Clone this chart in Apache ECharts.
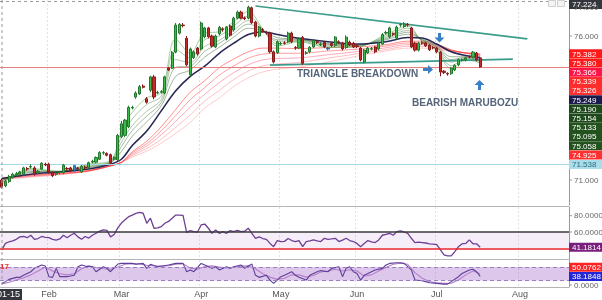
<!DOCTYPE html>
<html><head><meta charset="utf-8">
<script src="https://cdn.jsdelivr.net/npm/echarts@6/dist/echarts.min.js"></script>
<style>html,body{margin:0;padding:0;background:#fff}#c{width:602px;height:300px}</style>
</head><body><div id="c"></div>
<script>
// ---------- categories (trading days) ----------
const startDate = '2020-01-15', endDate = '2020-08-20';
function weekdays(a, b) {
  const out = []; const d = new Date(a + 'T00:00:00Z'); const e = new Date(b + 'T00:00:00Z');
  while (d <= e) { const w = d.getUTCDay(); if (w !== 0 && w !== 6) out.push(d.toISOString().slice(0, 10)); d.setUTCDate(d.getUTCDate() + 1); }
  return out;
}
const categories = weekdays(startDate, endDate);
const monthNames = ['Jan','Feb','Mar','Apr','May','Jun','Jul','Aug','Sep','Oct','Nov','Dec'];

// ---------- candles [open, close, low, high] ----------
const ohlc = [
[71.00,70.75,70.70,71.05],[70.80,70.95,70.75,71.00],[70.95,71.12,70.90,71.18],[71.10,71.20,71.05,71.25],[71.18,71.22,71.12,71.28],
[71.20,71.28,71.15,71.32],[71.20,71.42,71.15,71.46],[71.40,71.38,71.32,71.45],[71.45,71.47,71.40,71.55],[71.42,71.20,71.15,71.48],
[71.25,71.30,71.20,71.35],[71.38,71.58,71.35,71.62],[71.55,71.52,71.48,71.60],[71.55,71.28,71.22,71.60],[71.26,71.15,71.10,71.30],
[71.20,71.24,71.15,71.30],[71.26,71.28,71.20,71.32],[71.25,71.52,71.20,71.56],[71.40,71.38,71.32,71.45],[71.42,71.33,71.28,71.46],
[71.35,71.50,71.30,71.52],[71.42,71.40,71.35,71.46],[71.28,71.48,71.25,71.52],[71.45,71.42,71.38,71.50],[71.42,71.60,71.38,71.64],
[71.62,71.65,71.58,71.70],[71.62,71.78,71.58,71.82],[71.72,71.95,71.70,72.00],[71.94,71.95,71.88,72.00],[71.92,71.86,71.82,71.96],
[71.88,71.60,71.55,71.92],[71.72,71.78,71.68,71.82],[71.70,72.55,71.65,72.60],[72.50,72.95,72.45,73.05],[72.55,73.08,72.50,73.12],
[72.85,73.52,72.80,73.58],[73.50,73.52,73.45,73.58],[73.88,74.02,73.82,74.08],[73.99,74.24,73.95,74.30],[74.26,74.22,74.18,74.32],
[73.82,73.70,73.65,73.88],[74.12,74.58,74.05,74.62],[74.58,73.88,73.80,74.65],[74.02,74.04,73.98,74.10],[74.05,74.07,74.00,74.12],
[74.02,74.58,73.98,74.62],[74.89,74.82,74.78,74.92],[74.88,75.42,74.85,75.48],[75.44,76.38,75.40,76.45],[76.10,76.40,76.05,76.45],
[76.38,76.36,76.30,76.45],[75.92,75.00,74.95,76.00],[74.65,75.55,74.60,75.60],[75.25,75.45,75.20,75.50],[75.58,75.38,75.32,75.62],
[75.55,76.45,75.50,76.50],[75.97,76.28,75.92,76.32],[76.28,75.97,75.92,76.32],[76.00,75.65,75.60,76.05],[75.62,76.00,75.58,76.05],
[76.08,76.30,76.02,76.35],[76.25,76.22,76.15,76.30],[75.90,76.31,75.85,76.35],[76.35,76.03,75.98,76.40],[76.21,76.62,76.15,76.67],
[76.62,76.83,76.58,76.88],[76.83,76.62,76.58,76.88],[76.63,76.60,76.55,76.68],[76.62,77.00,76.58,77.05],[76.98,76.46,76.42,77.02],
[76.48,76.00,75.95,76.52],[76.00,76.31,75.95,76.35],[76.22,76.20,76.12,76.28],[76.12,76.10,76.05,76.18],[76.10,75.45,75.40,76.15],
[75.45,75.10,75.05,75.50],[75.42,75.80,75.38,75.85],[75.72,75.74,75.68,75.80],[75.76,75.75,75.70,75.82],[75.80,76.10,75.75,76.15],
[76.10,75.80,75.75,76.15],[75.60,75.58,75.52,75.65],[75.58,75.90,75.55,75.95],[75.95,75.05,75.00,76.00],[75.40,75.42,75.35,75.48],
[75.45,75.61,75.40,75.65],[75.62,75.85,75.58,75.90],[75.80,75.78,75.72,75.85],[75.70,75.72,75.65,75.78],[75.78,75.62,75.58,75.82],
[75.58,75.55,75.50,75.62],[75.74,75.67,75.62,75.78],[75.68,75.96,75.62,76.00],[75.80,75.78,75.72,75.85],[75.76,75.55,75.50,75.80],
[75.60,75.96,75.55,76.02],[75.79,75.69,75.65,75.84],[75.75,75.62,75.58,75.80],[75.66,75.64,75.58,75.70],[75.58,75.17,75.12,75.62],
[75.10,75.51,75.05,75.55],[75.41,75.58,75.38,75.62],[75.55,75.56,75.50,75.62],[75.62,75.45,75.40,75.65],[75.55,75.75,75.50,75.80],
[75.72,76.05,75.68,76.10],[76.10,76.12,76.05,76.18],[75.97,76.28,75.92,76.32],[76.08,76.06,76.00,76.12],[75.93,76.31,75.88,76.36],
[76.38,76.40,76.32,76.45],[76.33,76.42,76.28,76.48],[76.40,76.38,76.32,76.45],[76.28,75.62,75.58,76.32],[75.75,75.51,75.46,75.80],
[75.51,75.75,75.46,75.80],[75.76,75.75,75.70,75.82],[75.76,75.66,75.62,75.80],[75.68,75.52,75.48,75.72],[75.60,75.59,75.54,75.65],
[75.58,75.45,75.40,75.62],[75.44,74.75,74.60,75.48],[74.78,74.73,74.68,74.82],[74.70,74.68,74.62,74.74],[74.70,74.88,74.65,74.92],
[74.82,74.98,74.78,75.02],[75.00,75.18,74.95,75.22],[75.16,75.17,75.12,75.22],[75.17,75.24,75.12,75.28],[75.28,75.27,75.22,75.32],
[75.27,75.44,75.22,75.48],[75.41,75.17,75.12,75.45],[75.24,74.925,74.90,75.28]
];
const blueBars = [20, 90];

// ---------- moving-average ribbon (values read at these bar indices) ----------
const ribbonIdx = [0,8,16,24,30,33,36,40,44,48,52,56,60,64,68,72,76,82,90,98,106,112,116,120,124,128,132];
const g1 = [70.85,71.40,71.30,71.55,71.68,72.70,73.35,73.85,74.05,75.90,75.40,76.10,76.15,76.50,76.85,76.25,75.65,75.80,75.60,75.62,76.05,76.35,75.80,75.50,74.85,75.18,75.058];
const g2 = [70.89,71.36,71.30,71.52,71.65,72.50,73.12,73.62,73.92,75.54,75.24,75.87,76.00,76.35,76.69,76.23,75.73,75.82,75.64,75.64,76.00,76.27,75.83,75.54,74.97,75.21,75.095];
const g3 = [70.93,71.32,71.29,71.48,71.63,72.31,72.89,73.39,73.79,75.18,75.08,75.64,75.85,76.20,76.53,76.21,75.81,75.85,75.68,75.66,75.95,76.19,75.85,75.59,75.09,75.24,75.133];
const g4 = [70.96,71.29,71.29,71.46,71.61,72.16,72.72,73.22,73.69,74.91,74.96,75.47,75.74,76.09,76.41,76.20,75.87,75.87,75.71,75.68,75.91,76.13,75.87,75.62,75.18,75.26,75.154];
const g5 = [70.99,71.26,71.29,71.43,71.59,71.99,72.52,73.02,73.58,74.60,74.82,75.27,75.61,75.96,76.27,76.18,75.94,75.89,75.74,75.69,75.87,76.06,75.89,75.66,75.28,75.28,75.19];
const navy = [71.05,71.20,71.28,71.38,71.55,71.72,72.20,72.70,73.40,74.10,74.60,74.95,75.40,75.75,76.05,76.15,76.05,75.92,75.80,75.72,75.80,75.95,75.93,75.72,75.45,75.32,75.249];
const r1 = [71.06,71.18,71.24,71.33,71.50,71.62,71.98,72.35,72.85,73.45,74.05,74.45,74.90,75.20,75.45,75.58,75.58,75.56,75.60,75.62,75.70,75.82,75.82,75.72,75.52,75.40,75.326];
const r2 = [71.05,71.16,71.23,71.32,71.50,71.62,71.94,72.26,72.71,73.24,73.79,74.21,74.64,74.96,75.23,75.37,75.40,75.40,75.48,75.54,75.65,75.76,75.76,75.68,75.51,75.41,75.339];
const r3 = [71.04,71.14,71.21,71.32,71.49,71.61,71.89,72.18,72.57,73.04,73.53,73.98,74.38,74.73,75.00,75.17,75.22,75.24,75.35,75.46,75.59,75.70,75.70,75.63,75.49,75.41,75.366];
const r4 = [71.03,71.12,71.20,71.31,71.49,71.61,71.85,72.09,72.42,72.83,73.26,73.74,74.11,74.49,74.78,74.96,75.03,75.08,75.23,75.38,75.53,75.64,75.64,75.59,75.48,75.42,75.38];
const r5 = [71.02,71.10,71.18,71.30,71.48,71.60,71.80,72.00,72.28,72.62,73.00,73.50,73.85,74.25,74.55,74.75,74.85,74.92,75.10,75.30,75.48,75.58,75.58,75.54,75.46,75.42,75.382];

// ---------- levels / trendlines ----------
const lastPrice = 74.925;
const supportLevel = 71.538;
const upperTrend = [[70, 77.04], [145, 75.90]];
const lowerTrend = [[74, 74.99], [141, 75.20]];

// ---------- RSI ----------
const rsi = [38,46,48,49,51,54,54.5,53,56,51,52,54.5,53.5,53,51,50,51.5,56,53,56,58.4,54,51,54.5,52.5,56,58.4,61,62.5,62,
54,57,65,71,75,78.8,80.8,82.9,84,83,70.7,76.9,64.6,65,66.6,70.7,73,76.9,80.8,80.8,80.5,59.6,61.7,60.5,60,68.6,69.8,64.6,58.4,62.5,
58.4,60.5,58.4,61.7,60.5,62,60.5,61,64.6,58.4,52.2,54,52,51,46,42,49.5,48.3,48.5,52,49.5,48.3,49.5,42,48.3,49,50.3,49,48.3,52.3,
51,51.5,52.3,48.3,50,52.3,49.5,48.3,46,42,46,49.5,48,47,50.3,56,57,58.4,56,60.5,61.3,60,58.4,52.3,47,47.5,47,46.5,45.5,45,
44.4,38.3,31.8,30.6,30.6,36,42,45.5,46,50.3,45.5,45.5,41.18];
const rsiLevels = [60, 40];
const rsiTicks = [80, 60];
const rsiLast = 41.1814;

// ---------- Stochastic ----------
const stochK = [[0,7],[1,15],[2,25],[4,34],[5,34],[6,43],[8,59],[9,74],[11,89],[12,84],[13,37],[14,34],[15,74],[16,37],[18,37],[20,43],[21,81],[22,89],[23,84],[25,81],[26,59],[28,81],[29,74],[30,59],[32,93],[33,96],[36,96],[37,92],[39,96],[40,74],[41,92],[43,81],[46,89],[48,96],[50,96],[51,59],[52,67],[53,59],[55,96],[56,89],[58,74],[59,81],[60,67],[62,81],[63,74],[64,81],[66,89],[67,74],[69,93],[70,43],[71,34],[73,43],[74,22],[75,7],[77,37],[78,43],[80,59],[81,43],[82,34],[84,22],[85,43],[87,59],[88,64],[90,59],[91,74],[93,81],[94,37],[95,74],[96,81],[97,59],[98,51],[99,22],[100,43],[102,59],[103,67],[105,74],[106,89],[107,96],[109,99],[110,99],[111,96],[113,67],[114,22],[116,19],[117,15],[118,10],[120,7],[122,4],[123,4],[124,15],[126,37],[127,51],[129,67],[130,70],[131,59],[132,38.18]];
const stochD = [[0,5],[2,12],[4,22],[6,32],[8,45],[10,62],[12,80],[14,62],[16,50],[18,45],[20,50],[22,72],[24,85],[26,78],[28,72],[30,70],[32,80],[34,92],[36,95],[38,94],[40,88],[42,85],[44,84],[46,86],[48,92],[50,94],[52,75],[54,70],[56,82],[58,85],[60,80],[62,76],[64,78],[66,84],[68,85],[70,72],[72,50],[74,35],[76,25],[78,30],[80,45],[82,45],[84,35],[86,42],[88,58],[90,62],[92,70],[94,62],[96,68],[98,62],[100,40],[102,45],[104,62],[106,78],[108,92],[110,97],[112,92],[114,55],[116,30],[118,15],[120,10],[122,7],[124,8],[126,22],[128,45],[130,62],[132,50.08]];
const stochLevels = [80, 20];
const stochLastD = 50.0762, stochLastK = 38.1848;

// ---------- price-scale tags ----------
const crossPrice = 77.224;
const priceTicks = [76, 71];
const priceTagValues = [75.382, 75.380, 75.366, 75.339, 75.326, 75.249, 75.190, 75.154, 75.133, 75.095, 75.058, 74.925];
const priceTagColors = ['#ff1a1a','#ff1a1a','#ff1447','#ff2a2a','#ff2f2f','#1c1c4c','#1e4a1b','#1e4a1b','#24521f','#24521f','#24521f','#ff3030'];

// ---------- chart ----------
const chart = echarts.init(document.getElementById('c'), null, {renderer: 'canvas'});
const isMonthStart = i => i > 0 && categories[i].slice(5, 7) !== categories[i - 1].slice(5, 7);
const pairs = arr => ribbonIdx.map((x, k) => [x, arr[k]]);
const ribbon = (arr, color, op, w, z) => ({type: 'line', xAxisIndex: 0, yAxisIndex: 0, data: pairs(arr), smooth: 0.35, showSymbol: false, silent: true, z: z || 2, lineStyle: {color, opacity: op, width: w}});

const option = {
  animation: false,
  grid: [
    {left: 0, right: 33, top: 0, height: 205},
    {left: 0, right: 33, top: 207, height: 52},
    {left: 0, right: 33, top: 260, height: 27}
  ],
  xAxis: [0, 1, 2].map(g => ({
    type: 'category', gridIndex: g, data: categories, boundaryGap: true,
    axisLine: {show: false}, axisTick: {show: false},
    axisLabel: {show: g === 2, interval: (i) => isMonthStart(i), formatter: v => monthNames[+v.slice(5, 7) - 1],
      color: '#555', fontSize: 9, margin: 3, fontFamily: 'Liberation Sans'},
    splitLine: {show: true, interval: (i) => isMonthStart(i), lineStyle: {color: '#e2e2e2', type: [2, 2], width: 1}}
  })),
  yAxis: [
    {type: 'value', gridIndex: 0, position: 'right', min: 70.132, max: 77.25, axisLabel: {show: false}, axisTick: {show: false}, splitLine: {show: false}, axisLine: {show: true, lineStyle: {color: '#9a9a9a'}}},
    {type: 'value', gridIndex: 1, position: 'right', min: 26.87, max: 90.67, axisLabel: {show: false}, axisTick: {show: false}, splitLine: {show: false}, axisLine: {show: true, lineStyle: {color: '#9a9a9a'}}},
    {type: 'value', gridIndex: 2, position: 'right', min: -8.9, max: 111.1, axisLabel: {show: false}, axisTick: {show: false}, splitLine: {show: false}, axisLine: {show: true, lineStyle: {color: '#9a9a9a'}}}
  ],
  series: [
    ribbon(r5, '#ff2a2a', 0.25, 1), ribbon(r4, '#ff2a2a', 0.3, 1), ribbon(r3, '#ff1447', 0.36, 1), ribbon(r2, '#ff2a2a', 0.44, 1), ribbon(r1, '#ff2a2a', 0.52, 1),
    ribbon(g5, '#2c5a25', 0.45, 1), ribbon(g4, '#2c5a25', 0.42, 1), ribbon(g3, '#3a7030', 0.4, 1), ribbon(g2, '#3f8a33', 0.45, 1), ribbon(g1, '#46a83a', 0.5, 1),
    ribbon(navy, '#1c1c4c', 0.95, 1.6, 3),
    {
      type: 'candlestick', xAxisIndex: 0, yAxisIndex: 0, z: 5, barWidth: '72%',
      data: ohlc.map((r, i) => blueBars.includes(i) ? {value: r, itemStyle: {color: '#3d85c6', color0: '#3d85c6', borderColor: '#2b6aa8', borderColor0: '#2b6aa8'}} : r),
      itemStyle: {color: '#3cba4a', color0: '#c42a2a', borderColor: '#23782d', borderColor0: '#8a1b1b', borderWidth: 1},
      markLine: {
        silent: true, symbol: ['none', 'none'], label: {show: false}, animation: false,
        data: [
          {yAxis: lastPrice, lineStyle: {color: '#e88080', width: 1, type: 'solid'}},
          {yAxis: supportLevel, lineStyle: {color: '#a3d8e4', width: 1, type: 'solid'}},
          [{coord: [categories[upperTrend[0][0]], upperTrend[0][1]], lineStyle: {color: '#3a9c8a', width: 1.6, type: 'solid'}}, {coord: [categories[upperTrend[1][0]], upperTrend[1][1]]}],
          [{coord: [categories[lowerTrend[0][0]], lowerTrend[0][1]], lineStyle: {color: '#3a9c8a', width: 1.8, type: 'solid'}}, {coord: [categories[lowerTrend[1][0]], lowerTrend[1][1]]}]
        ]
      }
    },
    {
      type: 'line', xAxisIndex: 1, yAxisIndex: 1, data: rsi, showSymbol: false, silent: true, z: 4,
      lineStyle: {color: '#6e3f92', width: 1.3},
      markArea: {silent: true, itemStyle: {color: 'rgba(175,120,205,0.13)'}, data: [[{yAxis: rsiLevels[1]}, {yAxis: rsiLevels[0]}]]},
      markLine: {silent: true, symbol: ['none', 'none'], label: {show: false}, data: [
        {yAxis: rsiLevels[0], lineStyle: {color: '#3a3a3a', width: 1.5, type: 'solid'}},
        {yAxis: rsiLevels[1], lineStyle: {color: '#e8252b', width: 1.5, type: 'solid'}}
      ]}
    },
    {
      type: 'line', xAxisIndex: 2, yAxisIndex: 2, data: stochD, showSymbol: false, silent: true, z: 3,
      lineStyle: {color: '#b47fc8', width: 1.1},
      markArea: {silent: true, itemStyle: {color: 'rgba(160,100,200,0.36)'}, data: [[{yAxis: stochLevels[1]}, {yAxis: stochLevels[0]}]]},
      markLine: {silent: true, symbol: ['none', 'none'], label: {show: false}, data: [
        {yAxis: stochLevels[0], lineStyle: {color: '#9a7fc4', width: 1, type: [4, 3]}},
        {yAxis: stochLevels[1], lineStyle: {color: '#9a7fc4', width: 1, type: [4, 3]}}
      ]}
    },
    {type: 'line', xAxisIndex: 2, yAxisIndex: 2, data: stochK, showSymbol: false, silent: true, z: 4, lineStyle: {color: '#5d3f9a', width: 1.1}}
  ]
};
chart.setOption(option);

// ---------- overlays: right-scale tags, annotations ----------
const FONT = '8px "Liberation Sans"';
function txt(x, y, text, fill, font, align) {
  return {type: 'text', x, y, z: 101, silent: true, style: {text, fill, font: font || FONT, textAlign: align || 'left', textVerticalAlign: 'middle', align: align || 'left', verticalAlign: 'middle'}};
}
function tag(y, text, bg, fg) {
  return [{type: 'rect', z: 100, silent: true, shape: {x: 569, y: y - 4.5, width: 33, height: 9}, style: {fill: bg}}, txt(572, y + 0.5, text, fg)];
}
function plain(y, text) {
  return [{type: 'line', z: 99, silent: true, shape: {x1: 569, y1: y, x2: 572, y2: y}, style: {stroke: '#999', lineWidth: 1}}, txt(574, y + 0.5, text, '#666')];
}
const py = (ax, v) => chart.convertToPixel({yAxisIndex: ax}, v);
const els = [];
// price scale
els.push(...plain(py(0, 77), '77.000'));
priceTicks.forEach(v => els.push(...plain(py(0, v), v.toFixed(3))));
els.push(...tag(Math.max(py(0, crossPrice), 4.5), crossPrice.toFixed(3), '#33363d', '#fff'));
let prev = -1e9;
priceTagValues.forEach((v, k) => { const y = Math.max(py(0, v), prev + 9.2); prev = y; els.push(...tag(y, v.toFixed(3), priceTagColors[k], '#fff')); });
els.push(...tag(py(0, supportLevel), supportLevel.toFixed(3), '#aadde9', '#2c6e80'));
// RSI scale
rsiTicks.forEach(v => els.push(...plain(py(1, v), v.toFixed(4))));
els.push(...tag(py(1, rsiLast), rsiLast.toFixed(4), '#7a1f7e', '#fff'));
// Stoch scale
els.push(...plain(py(2, 0), (0).toFixed(4)));
const yK = py(2, stochLastK); const yD = Math.min(py(2, stochLastD), yK - 9.2);
els.push(...tag(yD, stochLastD.toFixed(4), '#ff2424', '#fff'));
els.push(...tag(yK, stochLastK.toFixed(4), '#2226d6', '#fff'));
els.push(txt(0, 267, '17', '#e53935', 'bold 8px "Liberation Sans"'));
// panel separators and crosshair
[206.5, 259.5, 287.5].forEach(y => els.push({type: 'line', z: 50, silent: true, shape: {x1: 0, y1: y, x2: 569, y2: y}, style: {stroke: '#b4b4b4', lineWidth: 1}}));
els.push({type: 'line', z: 50, silent: true, shape: {x1: 0, y1: 1.5, x2: 569, y2: 1.5}, style: {stroke: '#9a9a9a', lineWidth: 1, lineDash: [3, 3]}});
els.push({type: 'line', z: 50, silent: true, shape: {x1: 2, y1: 0, x2: 2, y2: 287}, style: {stroke: '#9a9a9a', lineWidth: 1, lineDash: [3, 3]}});
els.push({type: 'rect', z: 100, silent: true, shape: {x: -40, y: 289, width: 62, height: 11}, style: {fill: '#33363d'}});
els.push(txt(20, 294.5, '2020-01-15', '#fff', '9px "Liberation Sans"', 'right'));
// top-right icon
els.push({type: 'rect', z: 60, silent: true, shape: {x: 548.5, y: 0.5, width: 7, height: 6}, style: {fill: '#f4f4f4', stroke: '#cfcfcf', lineWidth: 1}});
els.push({type: 'rect', z: 60, silent: true, shape: {x: 557.5, y: 0.5, width: 7, height: 6}, style: {fill: '#f4f4f4', stroke: '#cfcfcf', lineWidth: 1}});
// annotations
const ANN = 'bold 10px "Liberation Sans"';
els.push(txt(297, 74, 'TRIANGLE BREAKDOWN', '#56657a', ANN));
els.push(txt(412, 103.5, 'BEARISH MARUBOZU', '#56657a', ANN));
const blue = '#3a80c6';
els.push({type: 'polygon', z: 60, silent: true, shape: {points: [[438, 33], [441, 33], [441, 37.5], [444.5, 37.5], [439.5, 42.5], [434.5, 37.5], [438, 37.5]]}, style: {fill: blue}});
els.push({type: 'polygon', z: 60, silent: true, shape: {points: [[423, 68], [428, 68], [428, 65], [433, 69.5], [428, 74], [428, 71], [423, 71]]}, style: {fill: blue}});
els.push({type: 'polygon', z: 60, silent: true, shape: {points: [[479.5, 80], [484.5, 85], [481, 85], [481, 90], [478, 90], [478, 85], [474.5, 85]]}, style: {fill: blue}});
chart.setOption({graphic: {elements: els}});
</script>
</body></html>
